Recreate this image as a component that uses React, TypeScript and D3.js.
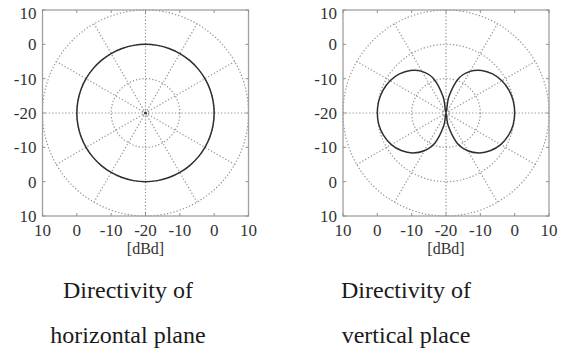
import React from "react";
import * as d3 from "d3";

const angles = [0, 10, 20, 30, 40, 50, 60, 70, 80, 90, 100, 110, 120, 130, 140, 150, 160, 170,
  180, 190, 200, 210, 220, 230, 240, 250, 260, 270, 280, 290, 300, 310, 320, 330, 340, 350];
const horizontalGain = [0, 0, 0, 0, 0, 0, 0, 0, 0, 0, 0, 0, 0, 0, 0, 0, 0, 0,
  0, 0, 0, 0, 0, 0, 0, 0, 0, 0, 0, 0, 0, 0, 0, 0, 0, 0];
const verticalGain = [0, -0.1, -0.5, -1.2, -2.3, -3.8, -6.0, -9.3, -15.2, -20, -15.2, -9.3, -6.0, -3.8, -2.3, -1.2, -0.5, -0.1,
  0, -0.15, -0.7, -1.6, -3.0, -4.8, -7.3, -10.8, -16.2, -20, -16.2, -10.8, -7.3, -4.8, -3.0, -1.6, -0.7, -0.15];
const ringValues = [-10, 0, 10];
const spokeAngles = [0, 30, 60, 90, 120, 150, 180, 210, 240, 270, 300, 330];
const tickOffsets = [-30, -20, -10, 0, 10, 20, 30];
const tickLabels = ["10", "0", "-10", "-20", "-10", "0", "10"];
const titlesLeft = ["Directivity of", "horizontal plane"];
const titlesRight = ["Directivity of", "vertical place"];

const R = 103;

function Polar({ cx, cy, gains, titles, titleX }: { cx: number; cy: number; gains: number[]; titles: string[]; titleX: number }) {
  const r = d3.scaleLinear().domain([-20, 10]).range([0, R]).clamp(true);
  const sx = d3.scaleLinear().domain([-30, 30]).range([cx - R, cx + R]);
  const sy = d3.scaleLinear().domain([-30, 30]).range([cy - R, cy + R]);
  const rad = (deg: number) => (deg * Math.PI) / 180;
  const line = d3
    .lineRadial<number>()
    .angle((_, i) => Math.PI / 2 - rad(angles[i]))
    .radius((d) => r(d))
    .curve(d3.curveCardinalClosed.tension(0));
  const grid = { stroke: "#959595", strokeWidth: 1.2, strokeDasharray: "1.3 2", fill: "none" } as const;
  const tickLen = 3;
  return (
    <g>
      {ringValues.map((v) => (
        <circle key={v} cx={cx} cy={cy} r={r(v)} {...grid} />
      ))}
      <circle cx={cx} cy={cy} r={3} {...grid} />
      {spokeAngles.map((a) => (
        <line
          key={a}
          x1={cx + 3 * Math.cos(rad(a))}
          y1={cy - 3 * Math.sin(rad(a))}
          x2={cx + R * Math.cos(rad(a))}
          y2={cy - R * Math.sin(rad(a))}
          {...grid}
        />
      ))}
      <rect x={cx - R} y={cy - R} width={2 * R} height={2 * R} fill="none" stroke="#a0a0a0" strokeWidth={1.3} />
      {tickOffsets.map((t, i) => (
        <g key={i} stroke="#909090" strokeWidth={1}>
          <line x1={sx(t)} x2={sx(t)} y1={cy + R} y2={cy + R - tickLen} />
          <line x1={sx(t)} x2={sx(t)} y1={cy - R} y2={cy - R + tickLen} />
          <line y1={sy(t)} y2={sy(t)} x1={cx - R} x2={cx - R + tickLen} />
          <line y1={sy(t)} y2={sy(t)} x1={cx + R} x2={cx + R - tickLen} />
        </g>
      ))}
      <path d={line(gains) || ""} transform={`translate(${cx},${cy})`} fill="none" stroke="#2f2f2f" strokeWidth={1.5} />
      {gains.every((g) => g === 0) && <circle cx={cx} cy={cy} r={1.5} fill="#333" />}
      <g fill="#333" fontSize={17}>
        {tickOffsets.map((t, i) => (
          <text key={"y" + i} x={cx - R - 6} y={sy(t) + (i === 0 ? 3 : 0) + 6} textAnchor="end">
            {tickLabels[i]}
          </text>
        ))}
        {tickOffsets.map((t, i) => (
          <text key={"x" + i} x={sx(t)} y={cy + R + 20} textAnchor="middle">
            {tickLabels[i]}
          </text>
        ))}
      </g>
      <text x={cx} y={cy + R + 38} textAnchor="middle" fontSize={16} fill="#333">
        [dBd]
      </text>
      <g fontSize={24} fill="#1a1a1a">
        {titles.map((t, i) => (
          <text key={i} x={titleX} y={298 + i * 45} textAnchor="middle">
            {t}
          </text>
        ))}
      </g>
    </g>
  );
}

export default function App() {
  return (
    <div style={{ position: "absolute", left: 0, top: 0 }}>
      <svg width={566} height={360} style={{ display: "block", background: "#fff", fontFamily: '"Liberation Serif", serif' }}>
        <Polar cx={145.5} cy={113} gains={horizontalGain} titles={titlesLeft} titleX={128} />
        <Polar cx={446} cy={113} gains={verticalGain} titles={titlesRight} titleX={406} />
      </svg>
    </div>
  );
}
